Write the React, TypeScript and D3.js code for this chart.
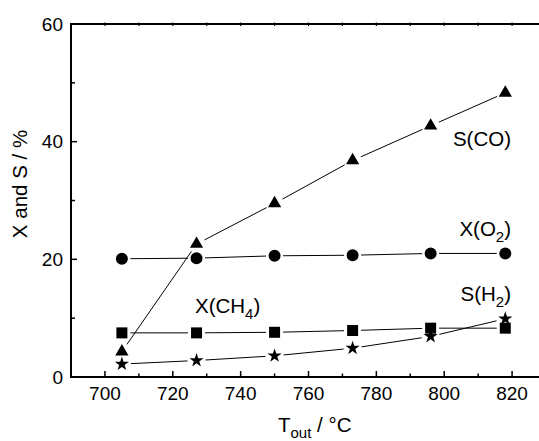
import React from "react";
import * as d3 from "d3";

const temps = [705, 727, 750, 773, 796, 818];
const sCO = [4.3, 22.6, 29.5, 36.8, 42.7, 48.3];
const xO2 = [20.1, 20.2, 20.6, 20.7, 21.0, 21.0];
const xCH4 = [7.5, 7.5, 7.6, 7.9, 8.3, 8.3];
const sH2 = [2.2, 2.8, 3.6, 4.9, 6.9, 9.9];
const xTicks = [700, 720, 740, 760, 780, 800, 820];
const yTicks = [0, 20, 40, 60];

const W = 539;
const H = 441;
const left = 71;
const top = 24;
const bottom = 377;
const x = d3.scaleLinear().domain([690, 830]).range([left, 546]);
const y = d3.scaleLinear().domain([0, 60]).range([bottom, top]);

const series = [
  { vals: xO2, sym: d3.symbolCircle, size: 113, r: 6 },
  { vals: xCH4, sym: d3.symbolSquare, size: 121, r: 6 },
  { vals: sCO, sym: d3.symbolTriangle, size: 76, r: 6.5 },
  { vals: sH2, sym: d3.symbolStar, size: 62, r: 6.5 },
];

const font = "Liberation Sans, Arial, sans-serif";

export default function App() {
  const minor10 = d3.range(690, 831, 10);
  const yMinor = d3.range(0, 61, 10);
  return (
    <svg width={W} height={H} style={{ position: "absolute", left: 0, top: 0, background: "#fff" }} fontFamily={font}>
      <rect width={W} height={H} fill="#fff" />
      {series.map((s, si) =>
        s.vals.slice(1).map((v, i) => {
          const x1 = x(temps[i]), y1 = y(s.vals[i]);
          const x2 = x(temps[i + 1]), y2 = y(v);
          const dx = x2 - x1, dy = y2 - y1;
          const len = Math.hypot(dx, dy);
          const g = s.r + 2.5;
          if (len <= 2 * g) return null;
          const ux = dx / len, uy = dy / len;
          return (
            <line key={`l${si}-${i}`} x1={x1 + ux * g} y1={y1 + uy * g} x2={x2 - ux * g} y2={y2 - uy * g} stroke="#000" strokeWidth={1} />
          );
        })
      )}
      {series.map((s, si) =>
        s.vals.map((v, i) => (
          <path key={`m${si}-${i}`} d={d3.symbol(s.sym, s.size)() as string} transform={`translate(${x(temps[i])},${y(v)})`} fill="#000" />
        ))
      )}
      <line x1={left} y1={bottom} x2={W} y2={bottom} stroke="#000" strokeWidth={2} />
      <line x1={left} y1={top} x2={W} y2={top} stroke="#000" strokeWidth={2} />
      <line x1={left} y1={top - 1} x2={left} y2={bottom + 1} stroke="#000" strokeWidth={2} />
      {minor10.map((t) => {
        const major = t % 20 === 0;
        return (
          <g key={`xt${t}`}>
            <line x1={x(t)} x2={x(t)} y1={bottom} y2={bottom - (major ? 6 : 3.5)} stroke="#000" strokeWidth={1.5} />
            {t > 690 && <line x1={x(t)} x2={x(t)} y1={top - 1.5} y2={top + 2} stroke="#000" strokeWidth={1.2} />}
          </g>
        );
      })}
      {yMinor.map((t) => {
        const major = t % 20 === 0;
        return <line key={`yt${t}`} x1={left} x2={left + (major ? 6 : 4)} y1={y(t)} y2={y(t)} stroke="#000" strokeWidth={1.5} />;
      })}
      {xTicks.map((t) => (
        <text key={`xl${t}`} x={x(t)} y={400} textAnchor="middle" fontSize={19}>{t}</text>
      ))}
      {yTicks.map((t) => (
        <text key={`yl${t}`} x={63} y={y(t) + 6.5} textAnchor="end" fontSize={19}>{t}</text>
      ))}
      <text x={278} y={432} fontSize={20.5}>
        T<tspan fontSize={15} dy={6}>out</tspan><tspan dy={-6}> / °C</tspan>
      </text>
      <text transform="translate(27,184) rotate(-90)" textAnchor="middle" fontSize={20.5}>X and S / %</text>
      <text x={511} y={146} textAnchor="end" fontSize={20.5}>S(CO)</text>
      <text x={511} y={236} textAnchor="end" fontSize={20.5}>
        X(O<tspan fontSize={15} dy={6}>2</tspan><tspan dy={-6}>)</tspan>
      </text>
      <text x={511} y={301} textAnchor="end" fontSize={20.5}>
        S(H<tspan fontSize={15} dy={6}>2</tspan><tspan dy={-6}>)</tspan>
      </text>
      <text x={195} y={312.5} fontSize={20.5}>
        X(CH<tspan fontSize={15} dy={6}>4</tspan><tspan dy={-6}>)</tspan>
      </text>
    </svg>
  );
}
